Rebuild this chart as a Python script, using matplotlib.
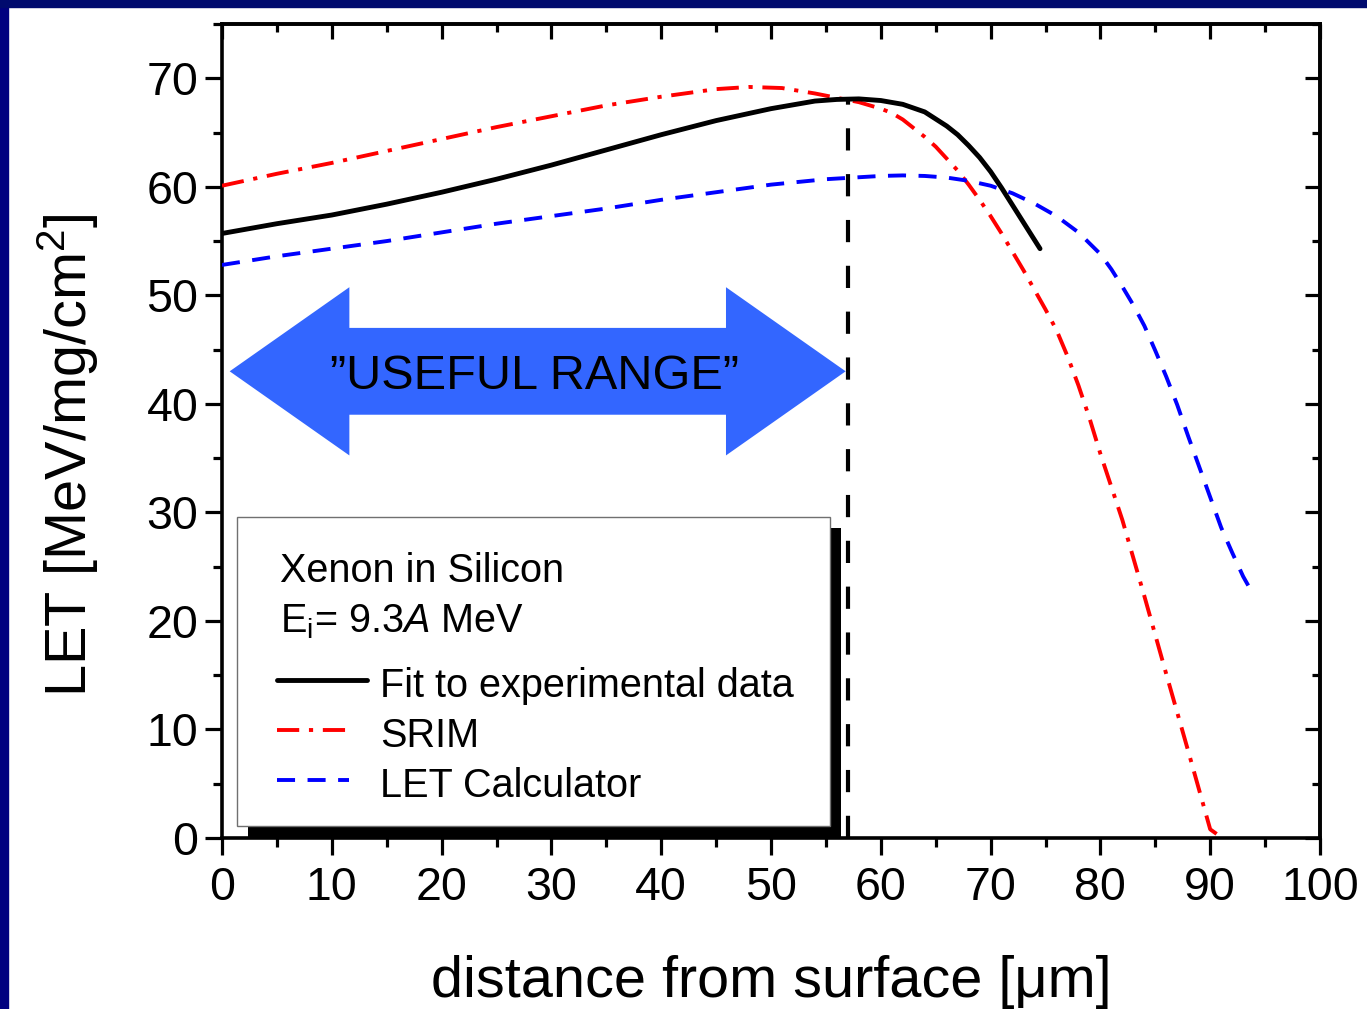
import matplotlib
matplotlib.use("Agg")
import matplotlib.pyplot as plt
import matplotlib.patches as mpatches
from matplotlib.lines import Line2D
from matplotlib.ticker import MultipleLocator

# ---------------- data ----------------
fit_x = [0, 5, 10, 15, 20, 25, 30, 35, 40, 45, 50, 54, 56, 58, 60, 62, 64, 66, 67, 68, 69,
         70, 71, 72, 73, 74.5]
fit_y = [55.7, 56.6, 57.4, 58.4, 59.5, 60.7, 62.0, 63.4, 64.8, 66.1, 67.2, 67.9, 68.05, 68.1,
         67.95, 67.6, 66.9, 65.6, 64.8, 63.8, 62.7, 61.4, 59.9, 58.3, 56.7, 54.3]

srim_x = [0, 5, 10, 15, 20, 25, 30, 35, 40, 45, 48, 51, 54, 56, 58, 60, 61, 62, 63, 64, 65,
          66, 67, 68, 69, 70, 71, 72, 73, 74, 75, 76, 77, 78, 79, 80, 82, 84, 86, 88, 90, 91.1]
srim_y = [60.1, 61.2, 62.2, 63.3, 64.4, 65.5, 66.5, 67.5, 68.3, 69.0, 69.2, 69.1, 68.6, 68.2,
          67.8, 67.2, 66.8, 66.2, 65.4, 64.6, 63.7, 62.6, 61.5, 60.2, 58.8, 57.3, 55.7, 54.0,
          52.3, 50.5, 48.7, 46.8, 44.4, 41.7, 38.7, 35.4, 29.3, 22.3, 15.1, 8.0, 0.8, 0.0]

letc_x = [0, 5, 10, 15, 20, 25, 30, 35, 40, 45, 50, 55, 60, 62, 64, 66, 68, 70, 72, 74, 76,
          78, 80, 81, 82, 83, 84, 85, 86, 87, 88, 89, 90, 91, 92, 93, 94]
letc_y = [52.8, 53.6, 54.3, 55.0, 55.8, 56.6, 57.3, 58.0, 58.8, 59.5, 60.2, 60.7, 61.0, 61.05,
          61.0, 60.85, 60.55, 60.1, 59.4, 58.45, 57.3, 55.8, 53.8, 52.4, 50.8, 49.1, 47.2, 44.9,
          42.5, 39.9, 37.0, 34.2, 31.4, 28.6, 26.3, 24.1, 22.3]

useful_end = 57.0          # end of the "useful range" (peak of fit)
useful_peak = 68.1

x_ticks = [0, 10, 20, 30, 40, 50, 60, 70, 80, 90, 100]
y_ticks = [0, 10, 20, 30, 40, 50, 60, 70]

series_labels = ["Fit to experimental data", "SRIM", "LET Calculator"]
legend_title1 = "Xenon in Silicon"
legend_title2 = r"E$_\mathregular{i}$= 9.3$\mathit{A}$ MeV"
arrow_text = "\u201dUSEFUL RANGE\u201d"

# ---------------- style ----------------
plt.rcParams["font.family"] = ["Liberation Sans", "DejaVu Sans"]
plt.rcParams["mathtext.fontset"] = "custom"
plt.rcParams["mathtext.rm"] = "Liberation Sans"
plt.rcParams["mathtext.it"] = "Liberation Sans:italic"
plt.rcParams["mathtext.bf"] = "Liberation Sans:bold"
plt.rcParams["lines.scale_dashes"] = False

styles = [
    dict(color="black", lw=3.5, linestyle="-", solid_capstyle="round", solid_joinstyle="round"),
    dict(color="#ff0000", lw=2.8, linestyle=(0, (16, 7, 3, 7))),
    dict(color="#0000ff", lw=2.8, linestyle=(0, (13, 9))),
]

fig = plt.figure(figsize=(13.67, 10.09), dpi=100)
fig.patch.set_facecolor("white")
# navy slide frame
fig.patches.append(mpatches.Rectangle((0, 0), 8 / 1367, 1, transform=fig.transFigure,
                                      color="#000080", zorder=0))
fig.patches.append(mpatches.Rectangle((0, 1 - 7 / 1009), 1, 7 / 1009, transform=fig.transFigure,
                                      color="#000a6e", zorder=0))

ax = fig.add_axes([0.1624, 0.16947, 0.80322, 0.80674])

ax.plot(fit_x, fit_y, **styles[0], zorder=5)
ax.plot(srim_x, srim_y, **styles[1], zorder=4)
ax.plot(letc_x, letc_y, **styles[2], zorder=4)

ax.vlines(useful_end, 0, useful_peak, colors="black", lw=3.0, linestyles=[(0, (16, 17))], zorder=3)

ax.set_xlim(0, 100)
ax.set_ylim(0, 75)
ax.set_xticks(x_ticks)
ax.set_yticks(y_ticks)
ax.set_xticklabels([str(v) for v in x_ticks])
ax.set_yticklabels([str(v) for v in y_ticks])
ax.xaxis.set_minor_locator(MultipleLocator(5))
ax.yaxis.set_minor_locator(MultipleLocator(5))

for sp in ax.spines.values():
    sp.set_linewidth(2.6)
ax.tick_params(which="major", direction="out", length=12, width=2.3, labelsize=33.5)
ax.tick_params(which="minor", direction="out", length=6.5, width=2.3)
ax.tick_params(axis="x", which="major", pad=8)
ax.tick_params(axis="y", which="major", pad=5)

# mirrored ticks pointing inward on top and right
axt = ax.secondary_xaxis("top")
axt.set_xticks(x_ticks)
axt.xaxis.set_minor_locator(MultipleLocator(5))
axt.tick_params(which="major", direction="in", length=11, width=2.3, labeltop=False)
axt.tick_params(which="minor", direction="in", length=5.5, width=2.3)
axt.spines["top"].set_linewidth(2.6)
axr = ax.secondary_yaxis("right")
axr.set_yticks(y_ticks)
axr.yaxis.set_minor_locator(MultipleLocator(5))
axr.tick_params(which="major", direction="in", length=11, width=2.3, labelright=False)
axr.tick_params(which="minor", direction="in", length=5.5, width=2.3)
axr.spines["right"].set_linewidth(2.6)

ax.set_xlabel("distance from surface [\u03bcm]", fontsize=41.5)
ax.xaxis.label.set_va("baseline")
ax.xaxis.set_label_coords(0.5, -0.195)
ax.set_ylabel(r"LET [MeV/mg/cm$^\mathregular{2}$]", fontsize=41.5)
ax.yaxis.label.set_va("center")
ax.yaxis.label.set_ha("center")
ax.yaxis.set_label_coords(-0.14, 0.4705)

# ---------------- useful range arrow ----------------
ax0, ax1, ay = 0.7, useful_end - 0.2, 43.0
sh, hh, hl = 4.0, 7.75, 10.9
verts = [(ax0, ay), (ax0 + hl, ay + hh), (ax0 + hl, ay + sh), (ax1 - hl, ay + sh),
         (ax1 - hl, ay + hh), (ax1, ay), (ax1 - hl, ay - hh), (ax1 - hl, ay - sh),
         (ax0 + hl, ay - sh), (ax0 + hl, ay - hh)]
ax.add_patch(mpatches.Polygon(verts, closed=True, facecolor="#3366ff", edgecolor="none", zorder=2))
ax.text((ax0 + ax1) / 2 - 0.3, ay - 0.5, arrow_text, fontsize=35, ha="center", va="center", zorder=6)

# ---------------- legend box ----------------
T = ax.transAxes
ax.add_patch(mpatches.Rectangle((0.0237, 0.0), 0.5401, 0.3808, transform=T, facecolor="black",
                                edgecolor="none", zorder=6, clip_on=False))
ax.add_patch(mpatches.Rectangle((0.0137, 0.0147), 0.5400, 0.3796, transform=T, facecolor="white",
                                edgecolor="#707070", lw=1.0, zorder=7, clip_on=False))
ax.text(0.0528, 0.3145, legend_title1, transform=T, fontsize=28.5, va="baseline", zorder=8)
ax.text(0.0528, 0.2530, legend_title2, transform=T, fontsize=28.5, va="baseline", zorder=8)
ys = [0.194, 0.1327, 0.0713]
ends = [0.132, 0.116, 0.116]
for st, lab, yy, xe in zip(styles, series_labels, ys, ends):
    ax.add_line(Line2D([0.0501, xe], [yy, yy], transform=T, zorder=8, **st))
    ax.text(0.1439, yy - 0.021, lab, transform=T, fontsize=28.5, va="baseline", zorder=8)

fig.savefig("out.png", dpi=100)
